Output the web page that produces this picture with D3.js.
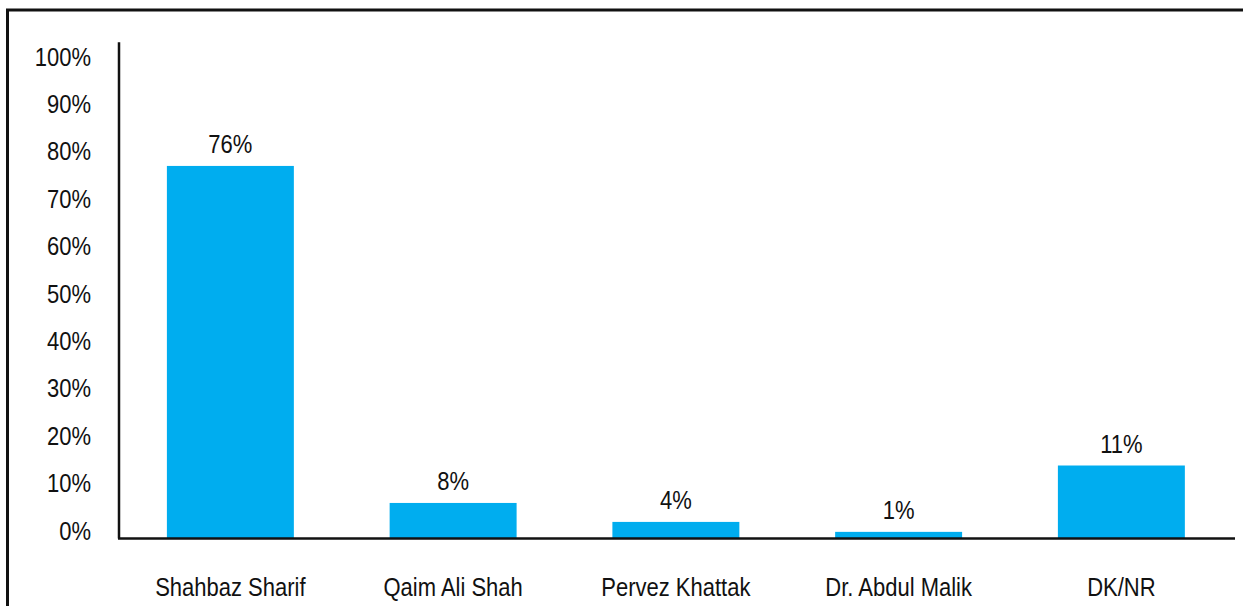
<!DOCTYPE html>
<html>
<head>
<meta charset="utf-8">
<script src="https://cdn.jsdelivr.net/npm/d3@7"></script>
<style>
  body { margin: 0; background: #fff; }
  svg text { font-family: "Liberation Sans", Arial, sans-serif; fill: #111; }
</style>
</head>
<body>
<div id="chart"></div>
<script>
// Categories and values
const categories = ["Shahbaz Sharif", "Qaim Ali Shah", "Pervez Khattak", "Dr. Abdul Malik", "DK/NR"];
// bar heights as drawn against the axis
const barValues = [78.6, 7.5, 3.5, 1.4, 15.4];
// printed data labels
const valueLabels = ["76%", "8%", "4%", "1%", "11%"];
const yTicks = [0, 10, 20, 30, 40, 50, 60, 70, 80, 90, 100];

const width = 1243;
const height = 606;
const margin = { top: 64.5, right: 10.25, bottom: 67.5, left: 119 };
const fontSize = "26.5px";
const narrow = 0.83; // squeeze Liberation Sans to look like a narrow face

const svg = d3
  .select("#chart")
  .append("svg")
  .attr("width", width)
  .attr("height", height);

// Outer frame (only top and left edges are visible in the crop)
svg
  .append("path")
  .attr("d", `M7.5,${height} V10 H${width}`)
  .attr("fill", "none")
  .attr("stroke", "#111")
  .attr("stroke-width", 3);

// Scales
const x = d3
  .scaleBand()
  .domain(categories)
  .range([margin.left, width - margin.right])
  .paddingInner(0.43)
  .paddingOuter(0.215);

const y = d3
  .scaleLinear()
  .domain([0, 100])
  .range([height - margin.bottom, margin.top]);

// Bars
svg
  .append("g")
  .selectAll("rect")
  .data(categories)
  .join("rect")
  .attr("x", (d) => x(d))
  .attr("width", x.bandwidth())
  .attr("y", (d, i) => y(barValues[i]))
  .attr("height", (d, i) => y(0) - y(barValues[i]))
  .attr("fill", "#00adef");

// Data labels
svg
  .append("g")
  .selectAll("text")
  .data(categories)
  .join("text")
  .attr("transform", (d, i) =>
    `translate(${x(d) + x.bandwidth() / 2},${y(barValues[i]) - 13}) scale(${narrow},1)`)
  .attr("text-anchor", "middle")
  .style("font-size", fontSize)
  .text((d, i) => valueLabels[i]);

// Y axis: labels only, plus the vertical line
const yAxis = svg
  .append("g")
  .attr("transform", `translate(${margin.left},0)`)
  .call(
    d3.axisLeft(y)
      .tickValues(yTicks)
      .tickSize(0)
      .tickPadding(28)
      .tickFormat((d) => d + "%")
  );
yAxis.select(".domain").remove();
yAxis
  .selectAll("text")
  .attr("x", -28 / narrow)
  .attr("dy", "0.34em")
  .attr("transform", `translate(0,-8.5) scale(${narrow},1)`)
  .style("font-size", fontSize);

svg
  .append("line")
  .attr("x1", margin.left)
  .attr("x2", margin.left)
  .attr("y1", y(0))
  .attr("y2", y(104.7))
  .attr("stroke", "#111")
  .attr("stroke-width", 2.5);

// X axis line and category labels
svg
  .append("line")
  .attr("x1", margin.left - 1)
  .attr("x2", width - 8)
  .attr("y1", y(0))
  .attr("y2", y(0))
  .attr("stroke", "#111")
  .attr("stroke-width", 2.5);

svg
  .append("g")
  .selectAll("text")
  .data(categories)
  .join("text")
  .attr("transform", (d) =>
    `translate(${x(d) + x.bandwidth() / 2},${y(0) + 57}) scale(${narrow},1)`)
  .attr("text-anchor", "middle")
  .style("font-size", fontSize)
  .text((d) => d);
</script>
</body>
</html>
